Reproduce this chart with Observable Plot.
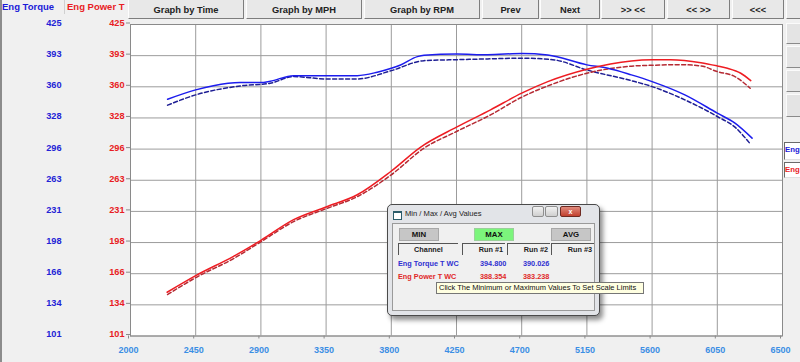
<!DOCTYPE html>
<html>
<head>
<meta charset="utf-8">
<script src="https://cdn.jsdelivr.net/npm/d3@7"></script>
<script src="https://cdn.jsdelivr.net/npm/@observablehq/plot@0.6"></script>
<style>
  body { margin: 0; background: #f0f0f0; font-family: "Liberation Sans", Arial, sans-serif; }
  #wrap { position: relative; width: 800px; height: 362px; overflow: hidden; background: #f0f0f0; }
  #leftedge { position: absolute; left: 0; top: 0; width: 2px; height: 362px; background: #8c8c8c; }
  #chart { position: absolute; left: 0; top: 0; }
  #chart text { font-weight: bold; }
  .btn { position: absolute; top: -2px; height: 21px; box-sizing: border-box; background: #e8e8e8;
         border: 1px solid; border-color: #fdfdfd #7d7d7d #7d7d7d #fdfdfd; font-weight: bold; font-size: 9.3px;
         color: #222; display: flex; align-items: center; justify-content: center; padding-top: 2px; }
  .hdr { position: absolute; top: 0; height: 14px; font-weight: bold; font-size: 9.5px; line-height: 13px; white-space: nowrap; overflow: hidden; }
  .rbtn { position: absolute; left: 786px; width: 18px; box-sizing: border-box; background: #e4e4e4;
          border: 1px solid; border-color: #fbfbfb #8a8a8a #8a8a8a #fbfbfb; }
  .rleg { position: absolute; left: 784px; width: 16px; box-sizing: border-box; background: #fff;
          border: 1px solid; border-right: none; border-color: #6a6a6a #e0e0e0 #e0e0e0 #6a6a6a; font-weight: bold; font-size: 7.8px; padding-left: 0px; line-height: 14px; white-space: nowrap; }
  #dlg { position: absolute; left: 387px; top: 204px; width: 213px; height: 112px; box-sizing: border-box;
         border: 1px solid #4a4a4a; border-radius: 5px; background: #e2e4e8; box-shadow: 3px 4px 5px rgba(0,0,0,0.45); }
  #dlg .title { position: absolute; left: 17px; top: 4px; font-size: 7.6px; color: #222; }
  #dlg .icon { position: absolute; left: 5px; top: 6px; width: 7px; height: 6px; border: 1px solid #2b5c6a; border-top-width: 2px; background: #fff; }
  .tb { position: absolute; top: 1px; height: 11px; box-sizing: border-box; border: 1px solid #8e8e8e; border-radius: 2px; background: linear-gradient(#f2f2f2, #cfcfcf); }
  .tb.close { background: linear-gradient(#e08a7c, #c2402e); border-color: #6e2a22; color: #fff; font-size: 7px; font-weight: bold; text-align: center; line-height: 9px; }
  #panel { position: absolute; left: 4px; top: 18px; width: 203px; height: 88px; box-sizing: border-box; background: #f0f0f0; border: 1px solid #9a9a9a; }
  .dbtn { position: absolute; top: 4px; height: 13px; width: 40px; box-sizing: border-box; background: #c6c6c6; border: 1px solid #a8a8a8;
          font-weight: bold; font-size: 7.8px; text-align: center; line-height: 12px; color: #111; }
  .colh { position: absolute; top: 19px; height: 12px; box-sizing: border-box; border-left: 1px solid #555; border-top: 1px solid #555;
          font-weight: bold; font-size: 7.3px; line-height: 11px; color: #222; }
  .cell { position: absolute; font-weight: bold; font-size: 7.3px; white-space: nowrap; }
  #tip { position: absolute; left: 436px; top: 282px; width: 208px; height: 12px; box-sizing: border-box; background: #ffffe1;
         border: 1px solid #767676; font-size: 7.5px; line-height: 10px; padding-left: 2px; white-space: nowrap; color: #111; }
</style>
</head>
<body>
<div id="wrap">
  <div id="chart"></div>
  <div id="leftedge"></div>
  <div class="hdr" style="left:2px;width:62px;color:#1a1ad8;">Eng Torque</div>
  <div class="hdr" style="left:64px;width:1px;background:#d0d0d0;"></div>
  <div class="hdr" style="left:67px;width:58px;color:#e81c24;">Eng Power T</div>
  <div id="buttons"></div>
  <div class="rbtn" style="top:23px;height:21px;"></div>
  <div class="rbtn" style="top:46px;height:22px;"></div>
  <div class="rbtn" style="top:70px;height:22px;"></div>
  <div class="rbtn" style="top:94px;height:23px;"></div>
  <div class="rleg" style="top:142px;height:18px;color:#1a1ad8;">Eng</div>
  <div class="rleg" style="top:162px;height:16px;color:#e81c24;">Eng</div>
  <div id="dlg">
    <div class="icon"></div>
    <div class="title">Min / Max / Avg Values</div>
    <div class="tb" style="left:144px;width:12px;"></div>
    <div class="tb" style="left:157px;width:13px;"></div>
    <div class="tb close" style="left:172px;width:21px;">x</div>
    <div id="panel">
      <div class="dbtn" style="left:6px;">MIN</div>
      <div class="dbtn" style="left:81px;background:#7cf57c;border-color:#9ad09a;">MAX</div>
      <div class="dbtn" style="left:158px;">AVG</div>
      <div class="colh" style="left:5px;width:60px;text-align:center;">Channel</div>
      <div class="colh" style="left:69px;width:43px;text-align:right;padding-right:2px;">Run #1</div>
      <div class="colh" style="left:114px;width:43px;text-align:right;padding-right:2px;">Run #2</div>
      <div class="colh" style="left:158px;width:43px;text-align:right;padding-right:2px;">Run #3</div>
      <div class="cell" style="left:5px;top:35px;color:#3030d0;">Eng Torque T WC</div>
      <div class="cell" style="left:87px;top:35px;color:#3030d0;">394.800</div>
      <div class="cell" style="left:130px;top:35px;color:#3030d0;">390.026</div>
      <div class="cell" style="left:5px;top:48px;color:#e02828;">Eng Power T WC</div>
      <div class="cell" style="left:87px;top:48px;color:#e02828;">388.354</div>
      <div class="cell" style="left:130px;top:48px;color:#e02828;">383.238</div>
    </div>
  </div>
  <div id="tip">Click The Minimum or Maximum Values To Set Scale Limits</div>
</div>
<script>
// ---- data ----
const buttonLabels = ["Graph by Time", "Graph by MPH", "Graph by RPM", "Prev", "Next", ">> <<", "<< >>", "<<<", ""];
const buttonLefts  = [128, 246, 364, 482, 540, 601, 667, 732, 786];
const buttonWidths = [116, 116, 116, 57, 60, 64, 63, 52, 20];

const rpmTicks = [2000, 2450, 2900, 3350, 3800, 4250, 4700, 5150, 5600, 6050, 6500];
const yTickLabels = [101, 134, 166, 198, 231, 263, 296, 328, 360, 393, 425];

const torqueRpm1 = [2256, 2450, 2572, 2757, 2900, 2964, 3126, 3350, 3565, 3703, 3800, 3864, 3980, 4026, 4250, 4465, 4700, 4880, 5150, 5295, 5457, 5600, 5826, 6050, 6172, 6290];
const torqueRun1 = [347.3, 357.0, 361.4, 364.6, 364.6, 366.0, 371.8, 371.8, 371.8, 375.4, 379.5, 382.9, 391.6, 393.0, 394.2, 393.6, 394.8, 393.3, 383.0, 379.5, 372.6, 365.6, 351.8, 332.8, 322.4, 306.8];

const torqueRpm2 = [2256, 2450, 2757, 2964, 3126, 3350, 3565, 3800, 4026, 4250, 4465, 4700, 4927, 5150, 5457, 5600, 5826, 6050, 6172, 6277];
const torqueRun2 = [341.1, 351.8, 361.1, 363.9, 370.8, 368.4, 368.4, 377.0, 387.4, 388.4, 389.2, 390.0, 388.1, 377.7, 366.6, 360.4, 346.6, 329.3, 318.2, 300.9];

const powerRpm1 = [2253, 2450, 2711, 2900, 3126, 3350, 3565, 3796, 4003, 4250, 4485, 4700, 4880, 5150, 5457, 5600, 5727, 5937, 6050, 6120, 6212, 6281];
const powerRun1 = [146.5, 163.8, 183.9, 200.5, 222.0, 235.2, 247.9, 272.1, 297.5, 318.2, 336.2, 353.6, 365.6, 378.5, 387.1, 388.3, 388.4, 385.3, 381.9, 379.5, 374.3, 366.6];

const powerRpm2 = [2256, 2450, 2711, 2900, 3126, 3350, 3565, 3800, 4026, 4250, 4485, 4700, 4880, 5150, 5457, 5600, 5794, 5937, 6050, 6172, 6277];
const powerRun2 = [144.1, 161.7, 181.5, 199.0, 220.0, 233.4, 245.9, 268.7, 296.4, 313.7, 331.0, 349.4, 361.1, 374.3, 381.7, 382.6, 383.2, 381.9, 376.0, 370.8, 358.7];

// ---- build ----
const btnHost = document.getElementById("buttons");
buttonLabels.forEach((t, i) => {
  const b = document.createElement("div");
  b.className = "btn";
  b.style.left = buttonLefts[i] + "px";
  b.style.width = buttonWidths[i] + "px";
  b.textContent = t;
  btnHost.appendChild(b);
});

const pts = (xs, ys) => xs.map((r, i) => ({rpm: r, v: ys[i]}));
const torque1 = pts(torqueRpm1, torqueRun1);
const torque2 = pts(torqueRpm2, torqueRun2);
const power1 = pts(powerRpm1, powerRun1);
const power2 = pts(powerRpm2, powerRun2);

const yMin = yTickLabels[0], yMax = yTickLabels[yTickLabels.length - 1];
const yTickValues = yTickLabels.map((_, i) => yMin + i * (yMax - yMin) / (yTickLabels.length - 1));
const yFmt = v => String(yTickLabels[yTickValues.indexOf(v)]);

const grid = "#9c9c9c";
const chart = Plot.plot({
  width: 800,
  height: 362,
  marginLeft: 130,
  marginRight: 18,
  marginTop: 24,
  marginBottom: 26.5,
  style: {background: "transparent", fontFamily: "'Liberation Sans', Arial, sans-serif", fontSize: "9px", overflow: "visible"},
  x: {domain: [rpmTicks[0], rpmTicks[rpmTicks.length - 1]], label: null},
  y: {domain: [yMin, yMax], label: null},
  marks: [
    Plot.frame({fill: "white", stroke: "none"}),
    Plot.gridX(rpmTicks, {stroke: grid, strokeOpacity: 1}),
    Plot.gridY(yTickValues, {stroke: grid, strokeOpacity: 1}),
    Plot.frame({stroke: "#8a8a8a"}),
    Plot.line(torque2, {x: "rpm", y: "v", stroke: "#1e1e94", strokeWidth: 1.5, strokeDasharray: "4,2.5", curve: "monotone-x"}),
    Plot.line(power2, {x: "rpm", y: "v", stroke: "#b52a33", strokeWidth: 1.5, strokeDasharray: "4,2.5", curve: "monotone-x"}),
    Plot.line(torque1, {x: "rpm", y: "v", stroke: "#1c1cee", strokeWidth: 1.5, curve: "monotone-x"}),
    Plot.line(power1, {x: "rpm", y: "v", stroke: "#ee1c22", strokeWidth: 1.5, curve: "monotone-x"}),
    Plot.axisY(yTickValues, {anchor: "left", tickSize: 4, tickPadding: 2, stroke: "#8a8a8a", fill: "#e81c24", tickFormat: yFmt, fontSize: 9.2, fontWeight: "bold", dy: -1.5}),
    Plot.axisY(yTickValues, {anchor: "left", tickSize: 0, tickPadding: 69, fill: "#2323d6", tickFormat: yFmt, fontSize: 9.2, fontWeight: "bold", dy: -1.5}),
    Plot.axisX(rpmTicks, {anchor: "bottom", tickSize: 3, tickPadding: 8, stroke: "#8a8a8a", fill: "#3b8ee4", tickFormat: d => String(d), fontSize: 9, fontWeight: "bold", dx: -2})
  ]
});
document.getElementById("chart").appendChild(chart);
</script>
</body>
</html>
